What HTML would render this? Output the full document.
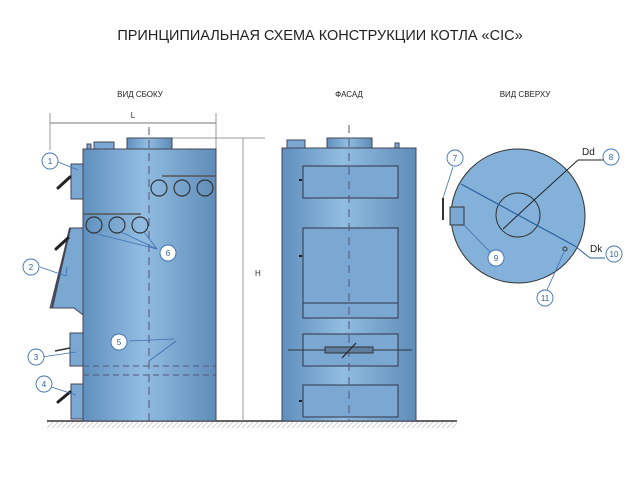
<!DOCTYPE html>
<html><head><meta charset="utf-8"><style>
html,body{margin:0;padding:0;background:#fff;}
svg{display:block;font-family:"Liberation Sans",sans-serif;}
</style></head><body>
<svg width="640" height="480" viewBox="0 0 640 480" xmlns="http://www.w3.org/2000/svg">
<defs>
<linearGradient id="g" x1="0" x2="1" y1="0" y2="0">
<stop offset="0" stop-color="#5f8fbd"/><stop offset="0.45" stop-color="#92bde2"/><stop offset="1" stop-color="#5f8cb8"/>
</linearGradient>
<pattern id="h" width="5" height="5" patternUnits="userSpaceOnUse"><path d="M0,5 L5,0" stroke="#bbb" stroke-width="0.7"/></pattern>
</defs>
<text x="320" y="40" text-anchor="middle" font-size="14.5" fill="#222" font-family="'Liberation Sans','Noto Sans CJK SC',sans-serif">ПРИНЦИПИАЛЬНАЯ СХЕМА КОНСТРУКЦИИ КОТЛА «CIC»</text>
<g font-size="8" fill="#222" text-anchor="middle">
<text x="140" y="97">ВИД СБОКУ</text><text x="349" y="97">ФАСАД</text><text x="525" y="97">ВИД СВЕРХУ</text>
</g>
<!-- ground -->
<rect x="47" y="421" width="410" height="7" fill="url(#h)"/>
<line x1="47" y1="421" x2="457" y2="421" stroke="#333" stroke-width="1.5"/>
<!-- side view -->
<line x1="50" y1="113" x2="50" y2="150" stroke="#999"/>
<line x1="216" y1="113" x2="216" y2="149" stroke="#999"/>
<line x1="50" y1="123" x2="216" y2="123" stroke="#777"/>
<text x="133" y="118" font-size="8" text-anchor="middle" fill="#333">L</text>
<line x1="172" y1="138" x2="265" y2="138" stroke="#999"/>
<line x1="243" y1="138" x2="243" y2="421" stroke="#999"/>
<text x="255" y="276" font-size="8" fill="#333">H</text>
<rect x="127" y="138" width="45" height="11" fill="url(#g)" stroke="#445"/>
<rect x="94" y="142" width="20" height="7" fill="#7aa8d2" stroke="#445"/>
<rect x="87" y="144" width="4" height="5" fill="#7aa8d2" stroke="#445"/>
<rect x="83" y="149" width="133" height="272" fill="url(#g)" stroke="#445"/>
<line x1="162" y1="176" x2="216" y2="176" stroke="#555" stroke-width="1.5"/>
<line x1="83" y1="214" x2="141" y2="214" stroke="#555" stroke-width="1.5"/>
<g fill="none" stroke="#333" stroke-width="1.2">
<circle cx="159" cy="188" r="8"/><circle cx="182" cy="188" r="8"/><circle cx="205" cy="188" r="8"/>
<circle cx="94" cy="225" r="8"/><circle cx="117" cy="225" r="8"/><circle cx="140" cy="225" r="8"/>
</g>
<line x1="149" y1="127" x2="149" y2="421" stroke="#557" stroke-dasharray="8,5"/>
<line x1="83" y1="366" x2="216" y2="366" stroke="#557" stroke-dasharray="6,4"/>
<line x1="83" y1="375" x2="216" y2="375" stroke="#557" stroke-dasharray="6,4"/>
<rect x="71" y="164" width="12" height="35" fill="#7aa8d2" stroke="#445"/>
<polygon points="70,228 83,228 83,315 74,308 50,308" fill="#7aa8d2" stroke="#445"/>
<line x1="70" y1="228" x2="52" y2="308" stroke="#445" stroke-width="2"/>
<rect x="70" y="333" width="13" height="33" fill="#7aa8d2" stroke="#445"/>
<rect x="71" y="384" width="12" height="35" fill="#7aa8d2" stroke="#445"/>
<g stroke="#222" stroke-width="3" stroke-linecap="round">
<line x1="58" y1="188" x2="70" y2="177"/><line x1="56" y1="249" x2="68" y2="238"/><line x1="58" y1="402" x2="70" y2="392"/>
</g>
<line x1="55" y1="351" x2="70" y2="348" stroke="#333" stroke-width="1.5"/>
<!-- leaders -->
<g stroke="#3b6fb0" stroke-width="0.8" fill="none">
<line x1="58" y1="162" x2="78" y2="170"/><line x1="67" y1="267" x2="66" y2="276"/><line x1="40" y1="267" x2="66" y2="276"/>
<line x1="42" y1="357" x2="76" y2="352"/><line x1="42" y1="384" x2="76" y2="395"/>
<line x1="97" y1="234" x2="157" y2="249"/><line x1="121" y1="232" x2="157" y2="249"/><line x1="144" y1="232" x2="157" y2="249"/>
<line x1="129" y1="341" x2="174" y2="339"/><line x1="149" y1="361" x2="176" y2="341"/>
</g>
<g fill="#fff" stroke="#3b6fb0" stroke-width="0.9">
<circle cx="50" cy="161" r="8"/><circle cx="31" cy="267" r="8"/><circle cx="36" cy="357" r="8"/><circle cx="44" cy="384" r="8"/>
<circle cx="168" cy="253" r="8"/><circle cx="119" cy="342" r="8"/>
</g>
<g font-size="8" fill="#2a5f9e" text-anchor="middle">
<text x="50" y="164">1</text><text x="31" y="270">2</text><text x="36" y="360">3</text><text x="44" y="387">4</text>
<text x="168" y="256">6</text><text x="119" y="345">5</text>
</g>
<!-- facade -->
<rect x="327" y="138" width="45" height="10" fill="url(#g)" stroke="#445"/>
<rect x="287" y="140" width="18" height="8" fill="#7aa8d2" stroke="#445"/>
<rect x="395" y="143" width="4" height="5" fill="#7aa8d2" stroke="#445"/>
<rect x="282" y="148" width="134" height="273" fill="url(#g)" stroke="#445"/>
<g fill="#7aa8d2" stroke="#334" stroke-width="1">
<rect x="303" y="166" width="95" height="32"/><rect x="303" y="228" width="95" height="90"/>
<rect x="303" y="334" width="95" height="32"/><rect x="303" y="385" width="95" height="32"/>
</g>
<line x1="303" y1="303" x2="398" y2="303" stroke="#334"/>
<line x1="349" y1="125" x2="349" y2="421" stroke="#557" stroke-dasharray="8,6"/>
<line x1="288" y1="350" x2="412" y2="350" stroke="#333"/>
<rect x="325" y="347" width="48" height="6" fill="#5f7d9c" stroke="#333"/>
<line x1="342" y1="358" x2="356" y2="343" stroke="#222" stroke-width="1.2"/>
<g stroke="#222" stroke-width="2"><line x1="299" y1="180" x2="302" y2="180"/><line x1="299" y1="256" x2="302" y2="256"/><line x1="299" y1="401" x2="302" y2="401"/></g>
<!-- top view -->
<circle cx="518" cy="216" r="67" fill="#84b1da" stroke="#333"/>
<circle cx="518" cy="215" r="22" fill="none" stroke="#333"/>
<line x1="503" y1="229" x2="533" y2="201" stroke="#222"/>
<line x1="533" y1="201" x2="578" y2="160" stroke="#222"/>
<line x1="578" y1="160" x2="604" y2="160" stroke="#222"/>
<line x1="461" y1="184" x2="575" y2="246" stroke="#2a5f9e" stroke-width="1.2"/>
<line x1="575" y1="246" x2="590" y2="258" stroke="#2a5f9e"/><line x1="590" y1="258" x2="605" y2="258" stroke="#2a5f9e"/>
<text x="582" y="155" font-size="10" fill="#222">Dd</text>
<text x="590" y="252" font-size="10" fill="#222">Dk</text>
<rect x="450" y="207" width="14" height="18" fill="#7aa8d2" stroke="#333"/>
<line x1="443" y1="198" x2="443" y2="220" stroke="#333" stroke-width="2"/>
<circle cx="565" cy="249" r="2" fill="none" stroke="#333"/>
<g stroke="#3b6fb0" stroke-width="0.8">
<line x1="453" y1="167" x2="443" y2="198"/><line x1="464" y1="225" x2="490" y2="252"/><line x1="564" y1="252" x2="547" y2="290"/>
</g>
<g fill="#fff" stroke="#3b6fb0" stroke-width="0.9">
<circle cx="455" cy="158" r="8"/><circle cx="611" cy="157" r="8"/><circle cx="496" cy="258" r="8"/><circle cx="614" cy="254" r="8"/><circle cx="545" cy="298" r="8"/>
</g>
<g font-size="8" fill="#2a5f9e" text-anchor="middle">
<text x="455" y="161">7</text><text x="611" y="160">8</text><text x="496" y="261">9</text><text x="614" y="257">10</text><text x="545" y="301">11</text>
</g>
</svg>
</body></html>
